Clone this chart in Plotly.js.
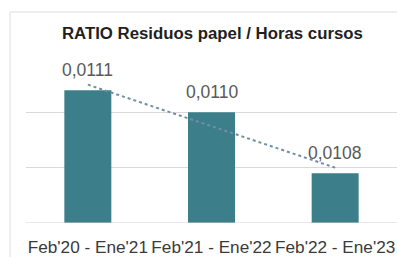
<!DOCTYPE html>
<html><head><meta charset="utf-8">
<script src="https://cdn.plot.ly/plotly-3.0.1.min.js"></script>
<style>html,body{margin:0;padding:0;background:#fff;}#c{width:397px;height:257px;}</style>
</head><body><div id="c"></div>
<script>
const categories = ["Feb'20 - Ene'21", "Feb'21 - Ene'22", "Feb'22 - Ene'23"];
const ratios = [0.01108, 0.01100, 0.01078];
const trendCats = [categories[0], categories[2]];
const trendValues = [0.01110, 0.01080];
const titleText = "RATIO Residuos papel / Horas cursos";

const barTrace = {
  type: 'bar', x: categories, y: ratios,
  marker: {color: '#3c7f8b'}, hoverinfo: 'none'
};
const trendTrace = {
  type: 'scatter', mode: 'lines', x: trendCats, y: trendValues,
  line: {color: '#6f8fa3', width: 2, dash: 'dot'}, hoverinfo: 'none'
};
const labels = categories.map((c, i) => ({
  x: c, y: ratios[i], xref: 'x', yref: 'y',
  text: ratios[i].toFixed(4).replace('.', ','),
  showarrow: false, yanchor: 'bottom', yshift: 8,
  font: {family: 'Liberation Sans, Arial, sans-serif', size: 17.5, color: '#595959'}
}));
const layout = {
  width: 397, height: 257,
  margin: {l: 26, r: 0, t: 57, b: 34, pad: 0},
  paper_bgcolor: '#ffffff', plot_bgcolor: '#ffffff',
  showlegend: false, bargap: 0.62,
  title: {text: '<b>' + titleText + '</b>', x: 0.535, xanchor: 'center', y: 0.87, yanchor: 'middle',
    font: {family: 'Liberation Sans, Arial, sans-serif', size: 16.8, color: '#1f1f1f'}},
  xaxis: {type: 'category', showgrid: false, zeroline: false, showline: false, ticks: '',
    tickfont: {family: 'Liberation Sans, Arial, sans-serif', size: 17.2, color: '#3a3a3a'},
    ticklabelstandoff: 12},
  yaxis: {range: [0.0106, 0.0112], dtick: 0.0002, showticklabels: false, showgrid: true,
    gridcolor: '#d9d9d9', gridwidth: 1, zeroline: false, showline: false, ticks: ''},
  shapes: [
    {type: 'line', xref: 'paper', yref: 'y', x0: 0, x1: 1, y0: 0.0106, y1: 0.0106,
      line: {color: '#d0d0d0', width: 1}},
    {type: 'line', xref: 'paper', yref: 'paper', x0: -16/371, x1: 1.01, y0: 1 + 45/166, y1: 1 + 45/166,
      line: {color: '#dddddd', width: 1}},
    {type: 'line', xref: 'paper', yref: 'paper', x0: -16/371, x1: -16/371, y0: 1 + 45/166, y1: -0.3,
      line: {color: '#dddddd', width: 1}}
  ],
  annotations: labels
};
Plotly.newPlot('c', [barTrace, trendTrace], layout, {staticPlot: true, displayModeBar: false});
</script></body></html>
